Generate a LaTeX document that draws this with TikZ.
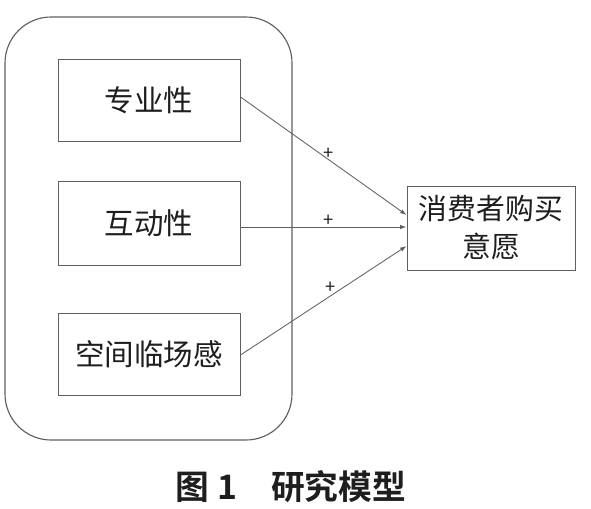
\documentclass[tikz,border=0pt]{standalone}
\usepackage{fontspec}
\setmainfont{Noto Sans CJK SC}
\newfontfamily\cjkbold{Noto Sans CJK SC}[BoldFont={* Bold}]
\usepackage{tikz}
\usetikzlibrary{arrows.meta,calc}
\definecolor{linegray}{RGB}{95,95,95}
\definecolor{textgray}{RGB}{30,30,30}
\tikzset{
  factor/.style={draw=linegray,line width=0.7pt,minimum width=182*0.025cm,minimum height=82*0.025cm,align=center,font=\fontsize{21}{25}\selectfont,text=textgray,inner sep=0pt},
  outcome/.style={draw=linegray,line width=0.7pt,minimum width=168*0.025cm,minimum height=84*0.025cm,align=center,font=\fontsize{20.5}{27}\selectfont,text=textgray,inner sep=0pt},
  group/.style={draw=linegray,line width=0.8pt,rounded corners=1.15cm,minimum width=287*0.025cm,minimum height=423*0.025cm,inner sep=0pt},
  arrow/.style={-{Latex[length=1.6mm,width=1.1mm]},linegray,line width=0.6pt},
  sign/.style={font=\fontsize{13}{13}\selectfont,text=textgray,inner sep=0pt}
}
\begin{document}
\begin{tikzpicture}[x=0.025cm,y=-0.025cm]
\useasboundingbox (0,0) rectangle (591,508);
% group of factors
\node[group] (grp) at (148.5,228.5) {};
\node[factor] (f1) at (149,100) {专业性};
\node[factor,minimum height=84*0.025cm] (f2) at (149,223) {互动性};
\node[factor] (f3) at (149,354) {空间临场感};
% outcome
\node[outcome] (dv) at (491,228) {消费者购买\\意愿};
\draw[arrow] ($(f1.east)+(0,-3)$) -- node[sign,pos=0.53,above=0pt]{+} ($(dv.west)+(0,-13)$);
\draw[arrow] ($(f2.east)+(0,4)$) -- node[sign,pos=0.53,above=0pt]{+} ($(dv.west)+(0,-1)$);
\draw[arrow] ($(f3.east)+(0,1)$) -- node[sign,pos=0.545,above=1pt]{+} ($(dv.west)+(0,18)$);
% caption
\node[font=\cjkbold\bfseries\fontsize{24}{28}\selectfont,text=textgray] (cap) at (291,487) {图 1\quad 研究模型};
\end{tikzpicture}
\end{document}
